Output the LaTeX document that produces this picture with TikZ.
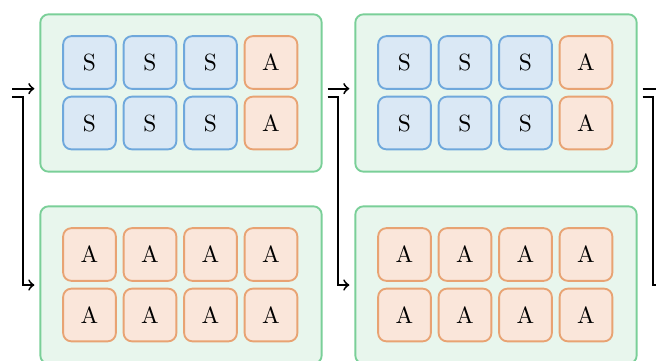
\documentclass[tikz,border=0pt]{standalone}
\usepackage{tikz}
\usetikzlibrary{arrows,positioning}

\definecolor{fillS}{HTML}{DAE8F5}
\definecolor{lineS}{HTML}{6FA8DC}
\definecolor{fillA}{HTML}{FAE6DA}
\definecolor{lineA}{HTML}{E8A373}
\definecolor{fillG}{HTML}{E8F6ED}
\definecolor{lineG}{HTML}{7ACF98}

\begin{document}
\begin{tikzpicture}[x=0.015cm,y=-0.015cm,
	cell/.style={draw=line#1,fill=fill#1,thick,rounded corners=3.5pt,minimum size=0.79cm,inner sep=0pt},
	group/.style={draw=lineG,fill=fillG,thick,rounded corners=3.5pt,minimum width=4.22cm,minimum height=2.36cm},
	link/.style={->,thick}]
	\path[use as bounding box,clip] (0,0) rectangle (656,361);

	% groups
	\foreach \c in {1,2} {
		\node[group](T\c) at (181+315*\c-315,93) {};
		\node[group](B\c) at (181+315*\c-315,285) {};
	}

	% cells
	\foreach \c in {1,2}
		\foreach \r in {1,2} {
			\foreach \i [count=\n] in {S,S,S,A}
				\node[cell=\i](t\c\r\n) at (29+60.5*\n+315*\c-315,2+60.5*\r) {\i};
			\foreach \i [count=\n] in {A,A,A,A}
				\node[cell=\i](b\c\r\n) at (29+60.5*\n+315*\c-315,194+60.5*\r) {\i};
		}

	\coordinate (in1) at (12,93);
	\coordinate (in2) at ([xshift=0.075cm]T1.east);
	\coordinate (in3) at ([xshift=0.075cm]T2.east);
	\coordinate (T3) at ([xshift=4.725cm]T2.west);
	\coordinate (B3) at ([xshift=4.725cm]B2.west);

	\draw[link] ([yshift=0.065cm]in1) -- ([xshift=-0.075cm,yshift=0.065cm]T1.west);
	\draw[link] ([yshift=-0.065cm]in1) -- ++(0.16cm,0) |- ([xshift=-0.075cm]B1.west);
	\draw[link] ([yshift=0.065cm]in2) -- ([xshift=-0.075cm,yshift=0.065cm]T2.west);
	\draw[link] ([yshift=-0.065cm]in2) -- ++(0.16cm,0) |- ([xshift=-0.075cm]B2.west);
	\draw[link] ([yshift=0.065cm]in3) -- ([xshift=-0.075cm,yshift=0.065cm]T3);
	\draw[link] ([yshift=-0.065cm]in3) -- ++(0.16cm,0) |- ([xshift=-0.075cm]B3);
\end{tikzpicture}
\end{document}
